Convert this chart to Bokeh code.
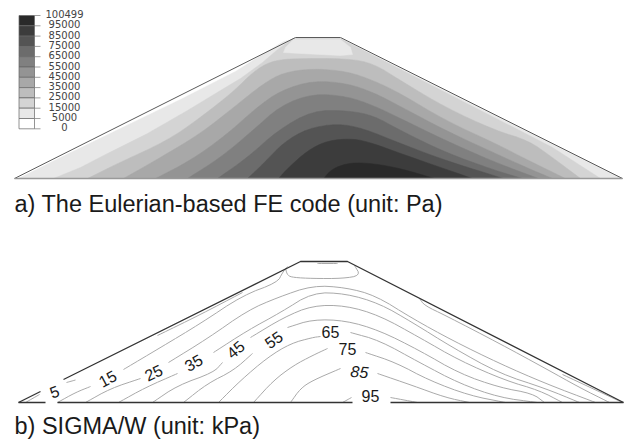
from bokeh.plotting import figure
from bokeh.embed import file_html
from bokeh.resources import INLINE
from bokeh.core.properties import value
from math import radians

# --- Fig a: legend
legend_labels = ["100499", "95000", "85000", "75000", "65000", "55000",
                 "45000", "35000", "25000", "15000", "5000", "0"]
band_greys = ["#2a2a2a", "#3c3c3c", "#545454", "#6c6c6c", "#808080", "#949494",
              "#a8a8a8", "#bdbdbd", "#d4d4d4", "#e8e8e8", "#ffffff"]

# --- Fig a: filled pressure bands (reference pixel units)
dam_x = [14, 295, 340, 622]
dam_y = [178, 37, 37, 178]
b5_x = [18, 60, 120, 180, 235, 265, 283, 295, 340, 622]
b5_y = [178, 157, 128, 99, 71, 52, 41, 38, 38, 178]
b15_x = [53, 80, 107, 147, 187, 220, 240, 262, 276, 292, 340, 552, 600]
b15_y = [178, 167, 153, 133, 110, 90, 78, 62, 50, 38, 38, 147, 178]
patch_x = [283, 285, 293, 340, 350, 352, 340, 300]
patch_y = [52, 47, 39, 39, 47, 54, 55, 53]
b25_x = [87, 117, 167, 200, 233, 253, 270, 290, 347, 373, 400, 445, 495, 528, 552, 580]
b25_y = [178, 163, 140, 117, 91, 71, 61, 58, 58, 63, 80, 107, 130, 140, 157, 178]
b35_x = [123, 160, 200, 233, 263, 283, 313, 347, 373, 400, 445, 495, 528, 565]
b35_y = [178, 157, 133, 107, 83, 72, 68, 71, 80, 93, 120, 143, 160, 178]
b45_x = [155, 190, 225, 255, 280, 313, 347, 373, 400, 445, 495, 528, 552]
b45_y = [178, 160, 135, 108, 90, 80, 83, 92, 106, 130, 153, 168, 178]
b55_x = [187, 220, 250, 280, 313, 347, 373, 400, 445, 495, 538]
b55_y = [178, 157, 132, 105, 93, 96, 105, 118, 140, 162, 178]
b65_x = [217, 247, 277, 312, 347, 373, 400, 445, 495, 522]
b65_y = [178, 157, 130, 110, 110, 115, 130, 152, 170, 178]
b75_x = [247, 263, 283, 307, 337, 363, 400, 445, 503]
b75_y = [178, 163, 142, 128, 123, 128, 143, 160, 178]
b85_x = [278, 287, 307, 327, 353, 373, 400, 472]
b85_y = [178, 168, 150, 140, 138, 143, 153, 178]
b95_x = [323, 332, 350, 373, 400, 434]
b95_y = [178, 168, 162, 163, 168, 178]

# --- Fig b: contour lines
out1_x, out1_y = [18, 40], [402, 391]
out2_x, out2_y = [63, 300, 347, 623], [379, 261, 261, 402]
base1_x, base1_y = [18, 45], [402, 402]
base2_x, base2_y = [57, 352], [402, 402]
base3_x, base3_y = [390, 623], [402, 402]

c5a_x, c5a_y = [25, 39], [402, 394]
c5b_x, c5b_y = [66, 75], [382, 379.5]
c5c_x, c5c_y = [157, 200, 242], [335, 314, 292]
c5d_x, c5d_y = [562, 622], [374, 402]
crest_x = [285, 287, 293, 312, 342, 360, 354]
crest_y = [268, 275, 277, 278, 278, 275, 265]
crest2_x, crest2_y = [317, 337], [263, 263]
c15a_x, c15a_y = [57, 75, 90], [402, 392, 386]
c15b_x = [123, 160, 200, 242, 277, 282, 287]
c15b_y = [369, 347, 323, 295, 282, 272, 266]
c15c_x = [419, 424, 445, 499, 545, 579, 609]
c15c_y = [298, 305, 315, 343, 368, 387, 402]
c25a_x, c25a_y = [85, 110, 140], [402, 388, 378]
c25b_x = [168, 207, 247, 277, 312, 345, 375, 412, 452, 499, 545, 595]
c25b_y = [362, 338, 310, 297, 285, 287, 295, 318, 340, 363, 383, 402]
c35a_x, c35a_y = [118, 145, 177], [402, 387, 373]
c35b_x = [213, 247, 280, 312, 345, 379, 412, 452, 499, 545, 579]
c35b_y = [352, 330, 312, 292, 293, 303, 322, 347, 373, 388, 402]
c45a_x, c45a_y = [152, 177, 213, 222], [402, 385, 372, 362]
c45b_x = [250, 283, 312, 345, 379, 419, 459, 505, 539, 562]
c45b_y = [337, 317, 305, 305, 315, 337, 360, 380, 390, 402]
c55a_x, c55a_y = [183, 207, 233, 252], [402, 383, 370, 353]
c55b_x = [287, 312, 345, 379, 419, 459, 499, 532, 544]
c55b_y = [327, 319, 320, 330, 350, 373, 387, 393, 402]
c65a_x, c65a_y = [218, 240, 267, 290, 312, 320], [402, 380, 357, 343, 337, 336]
c65b_x = [350, 379, 419, 459, 499, 537]
c65b_y = [332, 340, 362, 383, 397, 402]
c75a_x, c75a_y = [253, 273, 293, 312, 327], [402, 380, 365, 355, 348]
c75b_x, c75b_y = [365, 395, 429, 469, 505], [352, 362, 380, 395, 402]
c85a_x, c85a_y = [290, 300, 312, 340], [402, 388, 380, 368]
c85b_x, c85b_y = [377, 412, 445, 469], [373, 385, 397, 402]
c95a_x, c95a_y = [342, 351], [402, 397]
c95b_x, c95b_y = [390, 417], [397, 402]

contour_label_text = ["5", "15", "25", "35", "45", "55", "65", "75", "85", "95"]
contour_label_x = [54, 107, 153, 193, 235, 273, 330, 347, 359, 370]
contour_label_y = [391, 378, 372, 362, 349, 339, 331, 348, 371, 395]
contour_label_rot = [20, 28, 25, 30, 40, 35, 0, 0, -5, 0]
contour_label_style = ["normal"] * 8 + ["italic", "normal"]

caption_a = "a) The Eulerian-based FE code (unit: Pa)"
caption_b = "b) SIGMA/W (unit: kPa)"


def rounded(xs, ys, passes=2):
    """Draw a read polyline with its corners rounded (keeps both end points)."""
    for _ in range(passes):
        nx, ny = [xs[0]], [ys[0]]
        for i in range(len(xs) - 1):
            nx += [0.75 * xs[i] + 0.25 * xs[i + 1], 0.25 * xs[i] + 0.75 * xs[i + 1]]
            ny += [0.75 * ys[i] + 0.25 * ys[i + 1], 0.25 * ys[i] + 0.75 * ys[i + 1]]
        nx.append(xs[-1])
        ny.append(ys[-1])
        xs, ys = nx, ny
    return xs, ys


p = figure(width=624, height=441, x_range=(0, 624), y_range=(441, 0),
           output_backend="svg", toolbar_location=None, min_border=0)
p.axis.visible = False
p.grid.visible = False
p.outline_line_color = None
p.background_fill_color = "#ffffff"
p.border_fill_color = "#ffffff"

# bands
sharp = [(dam_x, dam_y, "#ffffff"), (b5_x, b5_y, "#e8e8e8"), (b15_x, b15_y, "#d4d4d4"),
         (patch_x, patch_y, "#e8e8e8")]
smooth = [(b25_x, b25_y, "#bdbdbd"), (b35_x, b35_y, "#a8a8a8"),
          (b45_x, b45_y, "#949494"), (b55_x, b55_y, "#808080"), (b65_x, b65_y, "#6c6c6c"),
          (b75_x, b75_y, "#545454"), (b85_x, b85_y, "#3c3c3c"), (b95_x, b95_y, "#2a2a2a")]
for xs, ys, col in sharp:
    p.patch(xs, ys, fill_color=col, line_color=col, line_width=0.5)
for xs, ys, col in smooth:
    sx, sy = rounded(xs, ys)
    p.patch(sx, sy, fill_color=col, line_color=col, line_width=0.5)
p.line(dam_x[:], dam_y[:], line_color="#5a5a5a", line_width=1)
p.line([dam_x[0], dam_x[-1]], [dam_y[0], dam_y[-1]], line_color="#999999", line_width=1.6)

# legend
cell_top, cell_h = 15.0, 10.3
n = len(band_greys)
p.quad(left=[18.5] * n, right=[34.0] * n,
       top=[cell_top + i * cell_h for i in range(n)],
       bottom=[cell_top + (i + 1) * cell_h for i in range(n)],
       fill_color=band_greys, line_color="#666666", line_width=0.7)
m = len(legend_labels)
for i in range(m):
    y = cell_top + i * cell_h
    p.line([34, 40], [y, y], line_color="#888888", line_width=0.8)
p.text(x=[64.0] * m, y=[cell_top - 1.5 + i * cell_h for i in range(m)], text=legend_labels,
       text_font=value("DejaVu Sans"), text_font_size="10px", text_color="#444444",
       text_align="center", text_baseline="middle")

# captions
p.text(x=[14], y=[203], text=[caption_a], text_font=value("Liberation Sans"),
       text_font_size="23.5px", text_color="#1a1a1a", text_align="left", text_baseline="middle")
p.text(x=[14], y=[425], text=[caption_b], text_font=value("Liberation Sans"),
       text_font_size="23.5px", text_color="#1a1a1a", text_align="left", text_baseline="middle")

# contours
contours = [(c5a_x, c5a_y), (c5b_x, c5b_y), (c5c_x, c5c_y), (c5d_x, c5d_y), (crest_x, crest_y),
            (crest2_x, crest2_y), (c15a_x, c15a_y), (c15b_x, c15b_y), (c15c_x, c15c_y),
            (c25a_x, c25a_y), (c25b_x, c25b_y), (c35a_x, c35a_y), (c35b_x, c35b_y),
            (c45a_x, c45a_y), (c45b_x, c45b_y), (c55a_x, c55a_y), (c55b_x, c55b_y),
            (c65a_x, c65a_y), (c65b_x, c65b_y), (c75a_x, c75a_y), (c75b_x, c75b_y),
            (c85a_x, c85a_y), (c85b_x, c85b_y), (c95a_x, c95a_y), (c95b_x, c95b_y)]
for xs, ys in contours:
    sx, sy = rounded(xs, ys)
    p.line(sx, sy, line_color="#aaaaaa", line_width=1)
for xs, ys in [(out1_x, out1_y), (out2_x, out2_y), (base1_x, base1_y),
               (base2_x, base2_y), (base3_x, base3_y)]:
    p.line(xs, ys, line_color="#333333", line_width=1.3)
p.text(x=contour_label_x, y=contour_label_y, text=contour_label_text,
       angle=[radians(a) for a in contour_label_rot],
       text_font=value("Liberation Sans"), text_font_style=contour_label_style,
       text_font_size="16px", text_color="#1a1a1a",
       text_align="center", text_baseline="middle")

open("out.html", "w").write(file_html(p, INLINE))
